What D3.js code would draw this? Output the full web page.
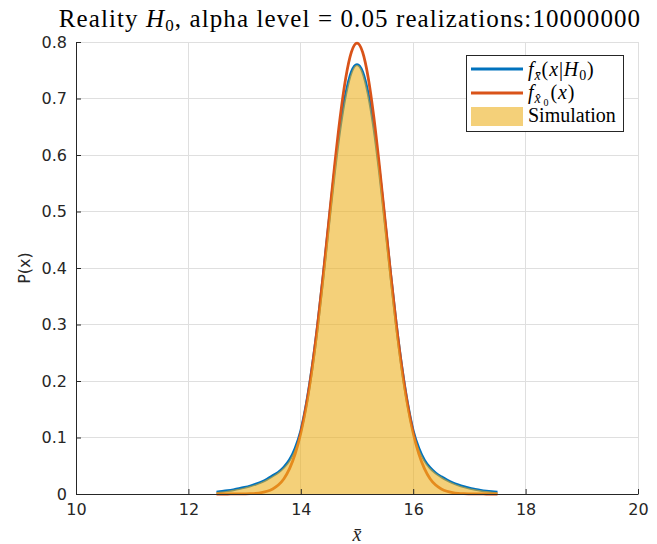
<!DOCTYPE html>
<html>
<head>
<meta charset="utf-8">
<script src="https://cdn.jsdelivr.net/npm/d3@7"></script>
<style>
  html, body { margin: 0; padding: 0; background: #fff; }
  svg { display: block; }
</style>
</head>
<body>
<svg id="chart" width="657" height="544"></svg>
<script>
// Evaluation points of the densities (x̄ from 12.5 to 17.5, step 0.1)
const xs = [
  12.5, 12.6, 12.7, 12.8, 12.9, 13.0, 13.1, 13.2, 13.3, 13.4,
  13.5, 13.6, 13.7, 13.8, 13.9, 14.0, 14.1, 14.2, 14.3, 14.4,
  14.5, 14.6, 14.7, 14.8, 14.9, 15.0, 15.1, 15.2, 15.3, 15.4,
  15.5, 15.6, 15.7, 15.8, 15.9, 16.0, 16.1, 16.2, 16.3, 16.4,
  16.5, 16.6, 16.7, 16.8, 16.9, 17.0, 17.1, 17.2, 17.3, 17.4, 17.5
];

// f_x̄(x|H0) — theoretical density under H0
const fH0 = [
  0.0035, 0.0046, 0.0059, 0.0075, 0.0094, 0.0116, 0.0142, 0.0174, 0.0213, 0.0262,
  0.0322, 0.0385, 0.0475, 0.0605, 0.0810, 0.1120, 0.1600, 0.2230, 0.2990, 0.3870,
  0.4800, 0.5700, 0.6480, 0.7080, 0.7470, 0.7600, 0.7470, 0.7080, 0.6480, 0.5700,
  0.4800, 0.3870, 0.2990, 0.2230, 0.1600, 0.1120, 0.0810, 0.0600, 0.0465, 0.0372,
  0.0305, 0.0248, 0.0200, 0.0162, 0.0130, 0.0104, 0.0084, 0.0066, 0.0052, 0.0041, 0.0032
];

// f_x̂0(x) — reference density
const fX0 = [
  0.0000, 0.0000, 0.0000, 0.0001, 0.0001, 0.0003, 0.0006, 0.0012, 0.0025, 0.0048,
  0.0089, 0.0158, 0.0271, 0.0448, 0.0709, 0.1080, 0.1579, 0.2218, 0.2995, 0.3884,
  0.4839, 0.5794, 0.6665, 0.7365, 0.7820, 0.7979, 0.7820, 0.7365, 0.6665, 0.5794,
  0.4839, 0.3884, 0.2995, 0.2218, 0.1579, 0.1080, 0.0709, 0.0448, 0.0271, 0.0158,
  0.0089, 0.0048, 0.0025, 0.0012, 0.0006, 0.0003, 0.0001, 0.0001, 0.0000, 0.0000, 0.0000
];

// Simulated density (histogram of the realizations)
const fSim = [
  0.0034, 0.0045, 0.0058, 0.0075, 0.0093, 0.0115, 0.0141, 0.0173, 0.0212, 0.0260,
  0.0320, 0.0384, 0.0473, 0.0603, 0.0808, 0.1118, 0.1598, 0.2228, 0.2988, 0.3868,
  0.4798, 0.5698, 0.6478, 0.7078, 0.7466, 0.7596, 0.7468, 0.7078, 0.6478, 0.5698,
  0.4798, 0.3868, 0.2988, 0.2228, 0.1598, 0.1118, 0.0808, 0.0599, 0.0464, 0.0371,
  0.0304, 0.0247, 0.0199, 0.0161, 0.0129, 0.0103, 0.0083, 0.0065, 0.0051, 0.0040, 0.0031
];

const xTicks = [10, 12, 14, 16, 18, 20];
const yTicks = [0, 0.1, 0.2, 0.3, 0.4, 0.5, 0.6, 0.7, 0.8];

const svg = d3.select("#chart");
const L = 76, R = 638, T = 42, B = 494;
const axisColor = "#262626";
const gridColor = "#dfdfdf";
const sans = "'DejaVu Sans', sans-serif";
const serif = "'Liberation Serif', 'DejaVu Serif', serif";

const x = d3.scaleLinear().domain([10, 20]).range([L, R]);
const y = d3.scaleLinear().domain([0, 0.8]).range([B, T]);

// grid
const grid = svg.append("g");
grid.selectAll(".gx").data(xTicks).join("line")
  .attr("x1", d => x(d)).attr("x2", d => x(d)).attr("y1", T).attr("y2", B)
  .attr("stroke", gridColor).attr("stroke-width", 1).attr("shape-rendering", "crispEdges");
grid.selectAll(".gy").data(yTicks).join("line")
  .attr("x1", L).attr("x2", R).attr("y1", d => y(d)).attr("y2", d => y(d))
  .attr("stroke", gridColor).attr("stroke-width", 1).attr("shape-rendering", "crispEdges");

const pts = ys => xs.map((v, i) => [v, ys[i]]);
const line = d3.line().x(d => x(d[0])).y(d => y(d[1])).curve(d3.curveMonotoneX);
const area = d3.area().x(d => x(d[0])).y0(y(0)).y1(d => y(d[1])).curve(d3.curveMonotoneX);

// theoretical curves
svg.append("path").attr("d", line(pts(fH0)))
  .attr("fill", "none").attr("stroke", "#0072BD").attr("stroke-width", 2.8)
  .attr("stroke-linejoin", "round");
svg.append("path").attr("d", line(pts(fX0)))
  .attr("fill", "none").attr("stroke", "#D95319").attr("stroke-width", 2.8)
  .attr("stroke-linejoin", "round");

// simulated density, translucent on top
svg.append("path").attr("d", area(pts(fSim)))
  .attr("fill", "#EDB120").attr("fill-opacity", 0.6).attr("stroke", "none");

// axes
const xAxis = d3.axisBottom(x).tickValues(xTicks).tickSizeInner(-5).tickSizeOuter(0).tickPadding(10);
const yAxis = d3.axisLeft(y).tickValues(yTicks).tickSizeInner(-5).tickSizeOuter(0).tickPadding(9)
  .tickFormat(d => d === 0 ? "0" : d3.format(".1f")(d));

const gx = svg.append("g").attr("transform", `translate(0,${B})`).call(xAxis);
const gy = svg.append("g").attr("transform", `translate(${L},0)`).call(yAxis);
[gx, gy].forEach(g => {
  g.select(".domain").attr("stroke", axisColor).attr("stroke-width", 1);
  g.selectAll(".tick line").attr("stroke", axisColor);
  g.selectAll(".tick text").attr("fill", axisColor)
    .style("font-family", sans).style("font-size", "16px");
});
gx.selectAll(".tick text").attr("dy", "0.71em");

// title
const title = svg.append("text").attr("x", 350).attr("y", 27)
  .attr("text-anchor", "middle").attr("fill", "#000")
  .style("font-family", serif).style("font-size", "25px").style("letter-spacing", "1.1px");
title.append("tspan").text("Reality ");
title.append("tspan").attr("font-style", "italic").text("H");
title.append("tspan").attr("font-size", "17px").attr("dy", 4).text("0");
title.append("tspan").attr("dy", -4).text(", alpha level = 0.05 realizations:10000000");

// axis labels
svg.append("text").attr("x", 357).attr("y", 541).attr("text-anchor", "middle")
  .attr("fill", axisColor).attr("font-style", "italic")
  .style("font-family", serif).style("font-size", "20px").text("x\u0304");
svg.append("text").attr("transform", "translate(30,268) rotate(-90)")
  .attr("text-anchor", "middle").attr("fill", axisColor)
  .style("font-family", sans).style("font-size", "16px").text("P(x)");

// legend
const lg = svg.append("g");
lg.append("rect").attr("x", 466.5).attr("y", 55.5).attr("width", 157).attr("height", 76)
  .attr("fill", "#fff").attr("stroke", axisColor).attr("stroke-width", 1);
lg.append("line").attr("x1", 471).attr("x2", 523).attr("y1", 69).attr("y2", 69)
  .attr("stroke", "#0072BD").attr("stroke-width", 2.8);
lg.append("line").attr("x1", 471).attr("x2", 523).attr("y1", 93).attr("y2", 93)
  .attr("stroke", "#D95319").attr("stroke-width", 2.8);
lg.append("rect").attr("x", 471).attr("y", 107).attr("width", 52).attr("height", 19)
  .attr("fill", "#EDB120").attr("fill-opacity", 0.6);

const lt = (yy, ls) => lg.append("text").attr("x", 528).attr("y", yy).attr("fill", "#000")
  .style("font-family", serif).style("font-size", "20px").style("letter-spacing", ls);

const t1 = lt(76, "0.9px");
t1.append("tspan").attr("font-style", "italic").text("f");
t1.append("tspan").attr("font-style", "italic").attr("font-size", "14px").attr("dy", 4).text("x\u0304");
t1.append("tspan").attr("dy", -4).text("(");
t1.append("tspan").attr("font-style", "italic").text("x");
t1.append("tspan").text("|");
t1.append("tspan").attr("font-style", "italic").text("H");
t1.append("tspan").attr("font-size", "14px").attr("dy", 4).text("0");
t1.append("tspan").attr("dy", -4).text(")");

const t2 = lt(99, "0.9px");
t2.append("tspan").attr("font-style", "italic").text("f");
t2.append("tspan").attr("font-style", "italic").attr("font-size", "14px").attr("dy", 4).text("x\u0302");
t2.append("tspan").attr("font-size", "10px").attr("dx", 2).attr("dy", 3).text("0");
t2.append("tspan").attr("dx", 1).attr("dy", -7).text("(");
t2.append("tspan").attr("font-style", "italic").text("x");
t2.append("tspan").text(")");

lt(122, "0px").text("Simulation");
</script>
</body>
</html>
